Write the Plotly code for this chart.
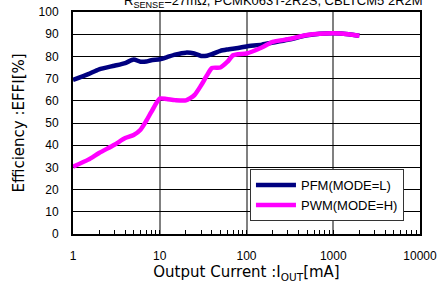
import plotly.graph_objects as go

pfm_current = [1, 1.5, 2, 3, 4, 5, 6, 7, 8, 10, 12, 15, 20, 25, 30, 35, 40, 50, 60, 80, 100, 150, 200, 300, 500, 700, 1000, 1500, 2000]
pfm_eff = [69.4, 72.0, 74.2, 75.8, 77.0, 78.6, 77.6, 77.7, 78.3, 78.7, 79.6, 80.8, 81.7, 81.3, 80.2, 80.3, 81.0, 82.5, 83.1, 83.8, 84.5, 85.3, 86.2, 87.5, 89.5, 90.2, 90.4, 90.0, 89.3]

pwm_current = [1, 1.5, 2, 3, 4, 5, 6, 7, 8, 10, 12, 15, 20, 25, 30, 35, 40, 50, 60, 70, 80, 100, 150, 200, 300, 500, 700, 1000, 1500, 2000]
pwm_eff = [30.3, 33.5, 36.5, 40.2, 43.2, 44.6, 47.0, 51.0, 55.0, 61.0, 60.8, 60.3, 60.2, 62.5, 67.0, 71.5, 74.8, 75.0, 77.5, 80.5, 81.0, 81.3, 84.0, 86.5, 87.7, 89.6, 90.2, 90.4, 90.0, 89.3]

x_tickvals = [1, 10, 100, 1000, 10000]
x_ticktext = ["1", "10", "100", "1000", "10000"]
x_minor_tickvals = [m * d for d in [1, 10, 100, 1000] for m in range(2, 10)]
y_tickvals = list(range(0, 101, 10))

series_names = ["PFM(MODE=L)", "PWM(MODE=H)"]
series_colors = ["#000080", "#FF00FF"]

fig = go.Figure()
fig.add_trace(go.Scatter(x=pfm_current, y=pfm_eff, mode="lines", name=series_names[0],
                         line=dict(color=series_colors[0], width=4.5, shape="spline", smoothing=0.6)))
fig.add_trace(go.Scatter(x=pwm_current, y=pwm_eff, mode="lines", name=series_names[1],
                         line=dict(color=series_colors[1], width=4.5, shape="spline", smoothing=0.6)))

tick_font = dict(family="Liberation Sans, Arial, sans-serif", size=12, color="#000")
title_font = dict(family="DejaVu Sans, sans-serif", size=15, color="#000")

fig.update_layout(
    width=440, height=285,
    margin=dict(l=73, r=20, t=12, b=51, autoexpand=False),
    paper_bgcolor="white", plot_bgcolor="white",
    showlegend=True,
    legend=dict(x=0.51, y=0.058, xanchor="left", yanchor="bottom",
                bgcolor="white", bordercolor="#333", borderwidth=1,
                font=dict(family="Liberation Sans, Arial, sans-serif", size=13, color="#000"),
                itemwidth=40, tracegroupgap=0),
    xaxis=dict(type="log", range=[0, 4], tickvals=x_tickvals, ticktext=x_ticktext,
               showgrid=True, gridcolor="#808080", gridwidth=1.5,
               showline=True, linecolor="#000", linewidth=2, mirror=True,
               ticks="inside", ticklen=4, tickcolor="#000",
               ticklabelstandoff=10, automargin=False,
               minor=dict(tickvals=x_minor_tickvals, ticks="inside", ticklen=4,
                          tickcolor="#000", showgrid=False),
               tickfont=tick_font, zeroline=False,
               title=dict(text="Output Current :I<sub>OUT</sub>[mA]", font=title_font, standoff=2)),
    yaxis=dict(range=[0, 100], tickvals=y_tickvals,
               showgrid=True, gridcolor="#000", gridwidth=1,
               showline=True, linecolor="#000", linewidth=2, mirror=True,
               ticks="", ticklabelstandoff=10, automargin=False,
               tickfont=tick_font, zeroline=False,
               title=dict(text="Efficiency :EFFI[%]", font=title_font, standoff=10)),
    annotations=[dict(text="R<sub>SENSE</sub>=27mΩ, PCMK063T-2R2S, CBLTCM5 2R2M",
                      xref="paper", yref="paper", x=0.14, y=1.0, xanchor="left", yanchor="bottom",
                      yshift=0, showarrow=False,
                      font=dict(family="Liberation Sans, Arial, sans-serif", size=13, color="#000"))],
)

fig.write_html("out.html", config={"displayModeBar": False},
               post_script="document.body.style.margin='0';")
